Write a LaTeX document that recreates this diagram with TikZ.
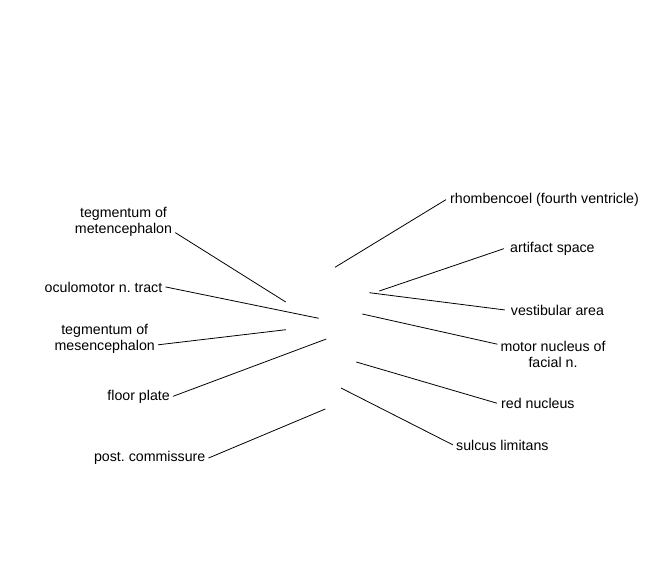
\documentclass[tikz,border=0pt]{standalone}
\usepackage{fontspec}
\setmainfont{Liberation Sans}
\frenchspacing
\begin{document}
\begin{tikzpicture}[x=1pt,y=-1pt,
  lab/.style={inner sep=3pt,font=\fontsize{14.2}{16}\selectfont,align=center},
  lead/.style={draw=black,line width=0.8pt}]
\useasboundingbox (0,0) rectangle (650,580);
% left labels
\node[lab] (tm) at (123.5,221.5) {tegmentum of\\metencephalon};
\node[lab,anchor=base east] (oc) at (165.5,292) {oculomotor n. tract};
\node[lab] (tmes) at (104.7,339) {tegmentum of\\mesencephalon};
\node[lab,anchor=base east] (fp) at (173,400) {floor plate};
\node[lab,anchor=base east] (pc) at (208.5,461.7) {post. commissure};
% right labels
\node[lab,anchor=base west] (rh) at (447,203.3) {rhombencoel (fourth ventricle)};
\node[lab,anchor=base west] (as) at (507,252.3) {artifact space};
\node[lab,anchor=base west] (va) at (507.7,315) {vestibular area};
\node[lab] (mn) at (553,354) {motor nucleus of\\facial n.};
\node[lab,anchor=base west] (rn) at (498,408.3) {red nucleus};
\node[lab,anchor=base west] (sl) at (453,450) {sulcus limitans};
% inner ends
\coordinate (ptm) at (285.7,302);
\coordinate (poc) at (318.7,318.3);
\coordinate (ptmes) at (286,329.7);
\coordinate (pfp) at (326.3,339);
\coordinate (ppc) at (325.3,409);
\coordinate (prh) at (335,267.3);
\coordinate (pas) at (379.3,291);
\coordinate (pva) at (369.3,292.7);
\coordinate (pmn) at (362.3,314);
\coordinate (prn) at (356.3,362);
\coordinate (psl) at (341,388);
% leaders
\draw[lead] ([yshift=6.7pt]tm.south east) -- (ptm);
\draw[lead] (oc.east) -- (poc);
\draw[lead] ([yshift=12pt]tmes.south east) -- (ptmes);
\draw[lead] (fp.east) -- (pfp);
\draw[lead] (pc.east) -- (ppc);
\draw[lead] ([xshift=-1pt]rh.west) -- (prh);
\draw[lead] ([xshift=-3pt]as.west) -- (pas);
\draw[lead] ([xshift=-3pt]va.west) -- (pva);
\draw[lead] ([yshift=-6.6pt]mn.north west) -- (pmn);
\draw[lead] ([xshift=-1pt]rn.west) -- (prn);
\draw[lead] (sl.west) -- (psl);
\end{tikzpicture}
\end{document}
